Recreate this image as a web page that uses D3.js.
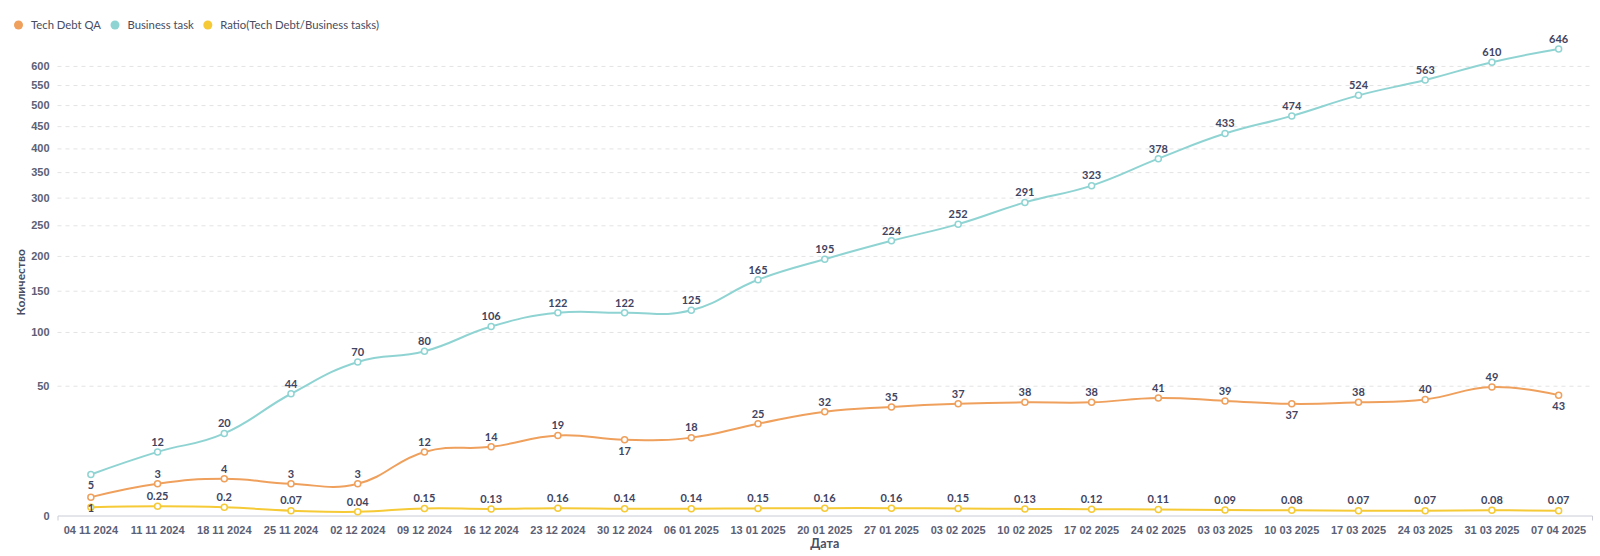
<!DOCTYPE html>
<html>
<head>
<meta charset="utf-8">
<script src="https://cdn.jsdelivr.net/npm/d3@7"></script>
<style>
    body { margin: 0; background: #fff; }
    svg { display: block; font-family: Lato, "Open Sans", sans-serif; }
    .grid line { stroke: #e3e3e3; stroke-dasharray: 4 4; }
    .tick text { fill: #5c6075; font-weight: 700; font-size: 11px; }
    .label { fill: #3f4461; font-weight: 700; font-size: 11px; }
</style>
</head>
<body>
<div id="chart"></div>
<script>
"use strict";

const dates = ['04 11 2024', '11 11 2024', '18 11 2024', '25 11 2024', '02 12 2024', '09 12 2024',
    '16 12 2024', '23 12 2024', '30 12 2024', '06 01 2025', '13 01 2025', '20 01 2025', '27 01 2025',
    '03 02 2025', '10 02 2025', '17 02 2025', '24 02 2025', '03 03 2025', '10 03 2025', '17 03 2025',
    '24 03 2025', '31 03 2025', '07 04 2025'];
const tech_debt = [1, 3, 4, 3, 3, 12, 14, 19, 17, 18, 25, 32, 35, 37, 38, 38, 41, 39, 37, 38, 40, 49, 43];
const business = [5, 12, 20, 44, 70, 80, 106, 122, 122, 125, 165, 195, 224, 252, 291, 323, 378, 433,
    474, 524, 563, 610, 646];
const ratio = [0.2, 0.25, 0.2, 0.07, 0.04, 0.15, 0.13, 0.16, 0.14, 0.14, 0.15, 0.16, 0.16, 0.15, 0.13,
    0.12, 0.11, 0.09, 0.08, 0.07, 0.07, 0.08, 0.07];
const y_ticks = d3.range(0, 601, 50);

// draw order matters for label overlap: earlier series win
const series = [
    {name: 'Business task', values: business, color: '#8fd4d3'},
    {name: 'Tech Debt QA', values: tech_debt, color: '#efa05c'},
    {name: 'Ratio(Tech Debt/Business tasks)', values: ratio, color: '#f5ca36'}
];
const legend_order = ['Tech Debt QA', 'Business task', 'Ratio(Tech Debt/Business tasks)'];

const width = 1600, height = 556;
const margin = {top: 49, right: 8, bottom: 40.5, left: 57.5};

const svg = d3.select('#chart').append('svg')
    .attr('width', width)
    .attr('height', height);

const xScale = d3.scaleBand()
    .domain(dates)
    .range([margin.left, width - margin.right]);
const yScale = d3.scaleSqrt()
    .domain([0, d3.max(business)])
    .range([height - margin.bottom, margin.top]);
const cx = d => xScale(d) + xScale.bandwidth() / 2;

// grid + y labels
const yAxis = d3.axisLeft(yScale)
    .tickValues(y_ticks)
    .tickSizeInner(-(width - margin.right - margin.left))
    .tickSizeOuter(0)
    .tickPadding(8);
const gy = svg.append('g')
    .attr('class', 'grid')
    .attr('transform', `translate(${margin.left},0)`)
    .call(yAxis);
gy.select('.domain').remove();
gy.selectAll('.tick').filter(d => d === 0).select('line').remove();

// x axis
const xAxis = d3.axisBottom(xScale)
    .tickSizeInner(0)
    .tickSizeOuter(5)
    .tickPadding(11);
const gx = svg.append('g')
    .attr('transform', `translate(0,${height - margin.bottom})`)
    .call(xAxis);
gx.select('.domain').attr('stroke', '#c9ccd6');

// axis titles
svg.append('text')
    .attr('x', (margin.left + width - margin.right) / 2)
    .attr('y', 548)
    .attr('text-anchor', 'middle')
    .style('font-size', '12.5px').style('font-weight', 700).style('fill', '#4a4e63')
    .text('Дата');
svg.append('text')
    .attr('transform', `translate(25,${(margin.top + height - margin.bottom) / 2}) rotate(-90)`)
    .attr('text-anchor', 'middle')
    .style('font-size', '12px').style('font-weight', 700).style('fill', '#4a4e63')
    .text('Количество');

const line = d3.line()
    .x((d, i) => cx(dates[i]))
    .y(d => yScale(d))
    .curve(d3.curveCardinal.tension(-0.3));

series.forEach(s => {
    svg.append('path')
        .datum(s.values)
        .attr('d', line)
        .style('fill', 'none')
        .style('stroke', s.color)
        .style('stroke-width', 2);
});
series.forEach(s => {
    svg.append('g').selectAll('circle')
        .data(s.values)
        .join('circle')
        .attr('cx', (d, i) => cx(dates[i]))
        .attr('cy', d => yScale(d))
        .attr('r', 3)
        .style('fill', '#fff')
        .style('stroke', s.color)
        .style('stroke-width', 1.5);
});

// labels: below on a strict local minimum, above otherwise; skip ones that collide
const placed = [];
const bottom = height - margin.bottom;
const labels = svg.append('g');
series.forEach(s => {
    const v = s.values;
    v.forEach((d, i) => {
        const prev = i > 0 ? v[i - 1] : Infinity, next = i < v.length - 1 ? v[i + 1] : Infinity;
        const x = cx(dates[i]), y = yScale(d);
        let below = d < prev && d < next;
        let ly = below ? y + 11 : y - 10;
        if (below && ly + 6 > bottom) ly = y - 10;
        const txt = String(d);
        const w = txt.length * 6.5, h = 11;
        const box = {x0: x - w / 2, x1: x + w / 2, y0: ly - h / 2, y1: ly + h / 2};
        if (placed.some(b => b.x0 < box.x1 && box.x0 < b.x1 && b.y0 < box.y1 && box.y0 < b.y1)) return;
        placed.push(box);
        labels.append('text')
            .attr('class', 'label')
            .attr('x', x)
            .attr('y', ly)
            .attr('dy', '0.35em')
            .attr('text-anchor', 'middle')
            .text(txt);
    });
});

// legend
let lx = 14;
const legend = svg.append('g').attr('transform', 'translate(0,25)');
legend_order.forEach(name => {
    const s = series.find(t => t.name === name);
    legend.append('circle')
        .attr('cx', lx + 4.5)
        .attr('cy', 0)
        .attr('r', 4.5)
        .style('fill', s.color);
    const t = legend.append('text')
        .attr('x', lx + 17)
        .attr('dy', '0.35em')
        .style('font-size', '11.3px').style('fill', '#484c60')
        .text(name);
    lx += 17 + t.node().getComputedTextLength() + 9.5;
});
</script>
</body>
</html>
